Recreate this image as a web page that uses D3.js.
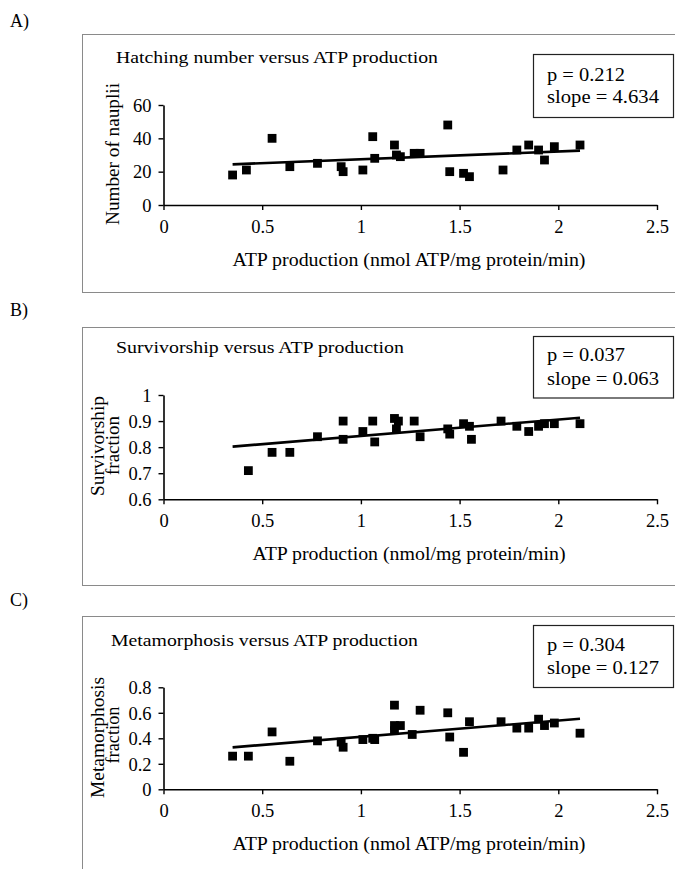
<!DOCTYPE html>
<html>
<head>
<meta charset="utf-8">
<script src="https://cdnjs.cloudflare.com/ajax/libs/d3/7.8.5/d3.min.js"></script>
<style>
  body { margin: 0; background: #fff; }
  svg text { font-family: "Liberation Serif", "Times New Roman", serif; fill: #000; }
</style>
</head>
<body>
<svg id="chart"></svg>
<script>
// data
var xTicks = [0, 0.5, 1, 1.5, 2, 2.5];

// A) hatching number
var atpA     = [0.35, 0.42, 0.55, 0.64, 0.78, 0.90, 0.91, 1.01, 1.06, 1.07, 1.17, 1.18, 1.20, 1.27, 1.30, 1.44, 1.45, 1.52, 1.55, 1.72, 1.79, 1.85, 1.90, 1.93, 1.98, 2.11];
var naupliiA = [18, 21, 40, 23, 25, 23, 20, 21, 41, 28, 36, 30, 29, 31, 31, 48, 20, 19, 17, 21, 33, 36, 33, 27, 35, 36];
var yTicksA  = [0, 20, 40, 60];
var trendA   = [[0.35, 24.4], [2.11, 32.6]];

// B) survivorship
var atpB     = [0.43, 0.55, 0.64, 0.78, 0.91, 0.91, 1.01, 1.06, 1.07, 1.17, 1.18, 1.19, 1.27, 1.30, 1.44, 1.45, 1.52, 1.55, 1.56, 1.71, 1.79, 1.85, 1.90, 1.93, 1.98, 2.11];
var survB    = [0.71, 0.78, 0.78, 0.84, 0.90, 0.83, 0.86, 0.90, 0.82, 0.91, 0.87, 0.90, 0.90, 0.84, 0.87, 0.85, 0.89, 0.88, 0.83, 0.90, 0.88, 0.86, 0.88, 0.89, 0.89, 0.89];
var yTicksB  = [0.6, 0.7, 0.8, 0.9, 1];
var trendB   = [[0.35, 0.802], [2.11, 0.913]];

// C) metamorphosis
var atpC     = [0.35, 0.43, 0.55, 0.64, 0.78, 0.90, 0.91, 1.01, 1.06, 1.07, 1.17, 1.17, 1.17, 1.20, 1.26, 1.30, 1.44, 1.45, 1.52, 1.55, 1.71, 1.79, 1.85, 1.90, 1.93, 1.98, 2.11];
var metaC    = [0.26, 0.26, 0.45, 0.22, 0.38, 0.37, 0.33, 0.39, 0.40, 0.39, 0.66, 0.50, 0.46, 0.50, 0.43, 0.62, 0.60, 0.41, 0.29, 0.53, 0.53, 0.48, 0.48, 0.55, 0.50, 0.52, 0.44];
var yTicksC  = [0, 0.2, 0.4, 0.6, 0.8];
var trendC   = [[0.35, 0.329], [2.11, 0.553]];

var panelLabels = ["A)", "B)", "C)"];
var titles  = ["Hatching number versus ATP production", "Survivorship versus ATP production", "Metamorphosis versus ATP production"];
var pValues = ["p = 0.212", "p = 0.037", "p = 0.304"];
var slopes  = ["slope = 4.634", "slope = 0.063", "slope = 0.127"];
var xTitles = ["ATP production (nmol ATP/mg protein/min)", "ATP production (nmol/mg protein/min)", "ATP production (nmol ATP/mg protein/min)"];
var yTitles = [["Number of nauplii"], ["Survivorship", "fraction"], ["Metamorphosis", "fraction"]];

var W = 675, H = 869;
var svg = d3.select("#chart").attr("width", W).attr("height", H);

// layout of each panel (page pixels)
var panels = [
  { xs: atpA, ys: naupliiA, yTicks: yTicksA, trend: trendA, top: 34, labelY: 27,
    yRange: [205, 105], titleX: 116, titleY: 63, titleLen: 322, boxY: 54, boxH: 63, pY: 80.5, sY: 103,
    xTitleY: 266, xTitleLen: 353, yT: [{x: 119, y: 154, len: 142}] },
  { xs: atpB, ys: survB, yTicks: yTicksB, trend: trendB, top: 327, labelY: 316,
    yRange: [499.3, 395], titleX: 116, titleY: 353, titleLen: 288, boxY: 336, boxH: 61.5, pY: 361, sY: 385,
    xTitleY: 559.5, xTitleLen: 313, yT: [{x: 103.5, y: 446, len: 100}, {x: 119.3, y: 445.5, len: 59}] },
  { xs: atpC, ys: metaC, yTicks: yTicksC, trend: trendC, top: 616, labelY: 606,
    yRange: [789.3, 687.3], titleX: 111, titleY: 646, titleLen: 307, boxY: 625, boxH: 62, pY: 651, sY: 674,
    xTitleY: 850, xTitleLen: 353, yT: [{x: 104, y: 737.5, len: 121}, {x: 119.3, y: 735, len: 57}] }
];

var x = d3.scaleLinear().domain([0, 2.5]).range([163.5, 657]);

panels.forEach(function(p, i) {
  var g = svg.append("g");
  var y = d3.scaleLinear().domain([p.yTicks[0], p.yTicks[p.yTicks.length - 1]]).range(p.yRange);

  // panel letter
  g.append("text").attr("x", 10).attr("y", p.labelY).attr("font-size", 18).text(panelLabels[i]);

  // outer frame (runs off the right edge)
  g.append("rect").attr("x", 82.5).attr("y", p.top + 0.5).attr("width", 620).attr("height", 258)
    .attr("fill", "none").attr("stroke", "#8a8a8a").attr("stroke-width", 1);

  // chart title
  g.append("text").attr("x", p.titleX).attr("y", p.titleY).attr("font-size", 17.5)
    .attr("textLength", p.titleLen).attr("lengthAdjust", "spacingAndGlyphs").text(titles[i]);

  // stats box
  g.append("rect").attr("x", 533.5).attr("y", p.boxY + 0.5).attr("width", 140).attr("height", p.boxH)
    .attr("fill", "#fff").attr("stroke", "#222").attr("stroke-width", 1.2);
  g.append("text").attr("x", 547).attr("y", p.pY).attr("font-size", 18)
    .attr("textLength", 78).attr("lengthAdjust", "spacingAndGlyphs").text(pValues[i]);
  g.append("text").attr("x", 547).attr("y", p.sY).attr("font-size", 18)
    .attr("textLength", 112).attr("lengthAdjust", "spacingAndGlyphs").text(slopes[i]);

  // axes
  var xAxis = g.append("g").attr("transform", "translate(0," + p.yRange[0] + ")")
    .call(d3.axisBottom(x).tickValues(xTicks).tickSize(5).tickSizeOuter(0).tickFormat(function(d) { return String(d); }));
  xAxis.selectAll("text").attr("y", 28).attr("dy", null).attr("font-size", 18.5);

  var yAxis = g.append("g").attr("transform", "translate(" + x(0) + ",0)")
    .call(d3.axisLeft(y).tickValues(p.yTicks).tickSize(5).tickSizeOuter(0).tickFormat(function(d) { return String(d); }));
  yAxis.selectAll("text").attr("x", -12).attr("dy", "0.34em").attr("font-size", 18.5);

  [xAxis, yAxis].forEach(function(a) {
    a.attr("font-family", null);
    a.select(".domain").attr("stroke", "#000").attr("stroke-width", 1.6);
    a.selectAll(".tick line").attr("stroke", "#000").attr("stroke-width", 1.4);
  });

  // axis titles
  g.append("text").attr("x", 409).attr("y", p.xTitleY).attr("text-anchor", "middle").attr("font-size", 18)
    .attr("textLength", p.xTitleLen).attr("lengthAdjust", "spacingAndGlyphs").text(xTitles[i]);

  p.yT.forEach(function(t, j) {
    g.append("text").attr("transform", "translate(" + t.x + "," + t.y + ") rotate(-90)")
      .attr("text-anchor", "middle").attr("font-size", 19)
      .attr("textLength", t.len).attr("lengthAdjust", "spacingAndGlyphs").text(yTitles[i][j]);
  });

  // trend line
  g.append("line")
    .attr("x1", x(p.trend[0][0])).attr("y1", y(p.trend[0][1]))
    .attr("x2", x(p.trend[1][0])).attr("y2", y(p.trend[1][1]))
    .attr("stroke", "#000").attr("stroke-width", 2.6);

  // points
  var s = 8.8;
  g.selectAll("rect.pt")
    .data(p.xs.map(function(v, k) { return [v, p.ys[k]]; }))
    .enter().append("rect").attr("class", "pt")
      .attr("x", function(d) { return x(d[0]) - s / 2; })
      .attr("y", function(d) { return y(d[1]) - s / 2; })
      .attr("width", s).attr("height", s)
      .attr("fill", "#000");
});
</script>
</body>
</html>
